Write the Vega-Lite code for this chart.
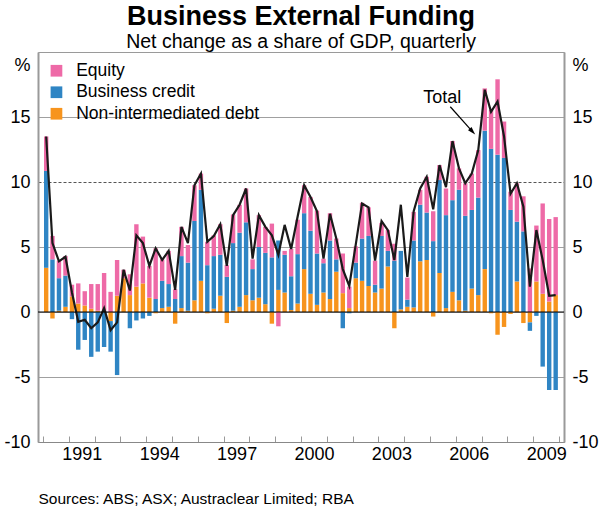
{
  "$schema": "https://vega.github.io/schema/vega-lite/v6.json",
  "width": 526,
  "height": 390,
  "autosize": "none",
  "padding": {"left": 38, "top": 52, "right": 36, "bottom": 64},
  "title": {
    "text": "Business External Funding",
    "subtitle": "Net change as a share of GDP, quarterly",
    "anchor": "middle",
    "font": "Liberation Sans",
    "fontSize": 27,
    "fontWeight": "bold",
    "color": "#000000",
    "subtitleFont": "Liberation Sans",
    "subtitleFontSize": 19.5,
    "subtitleColor": "#000000",
    "subtitlePadding": 2,
    "offset": 0
  },
  "data": {
    "values": [
      {"date": "1990-02-15", "Non-intermediated debt": 3.4, "Business credit": 7.45, "Equity": 2.65, "Total": 13.5},
      {"date": "1990-05-15", "Non-intermediated debt": -0.5, "Business credit": 4.05, "Equity": 1.8, "Total": 5.3},
      {"date": "1990-08-15", "Non-intermediated debt": 0.1, "Business credit": 2.5, "Equity": 1.35, "Total": 3.9},
      {"date": "1990-11-15", "Non-intermediated debt": 0.4, "Business credit": 2.4, "Equity": 1.5, "Total": 4.25},
      {"date": "1991-02-15", "Non-intermediated debt": 1.2, "Business credit": -0.55, "Equity": 0.9, "Total": 1.5},
      {"date": "1991-05-15", "Non-intermediated debt": 0.65, "Business credit": -2.9, "Equity": 1.55, "Total": -0.75},
      {"date": "1991-08-15", "Non-intermediated debt": 0.5, "Business credit": -2.15, "Equity": 1.1, "Total": -0.6},
      {"date": "1991-11-15", "Non-intermediated debt": 0.25, "Business credit": -3.45, "Equity": 1.9, "Total": -1.25},
      {"date": "1992-02-15", "Non-intermediated debt": 0.1, "Business credit": -3.05, "Equity": 2.05, "Total": -0.8},
      {"date": "1992-05-15", "Non-intermediated debt": 0.0, "Business credit": -2.7, "Equity": 3.0, "Total": 0.3},
      {"date": "1992-08-15", "Non-intermediated debt": -0.7, "Business credit": -2.35, "Equity": 1.55, "Total": -1.4},
      {"date": "1992-11-15", "Non-intermediated debt": 1.25, "Business credit": -4.85, "Equity": 2.75, "Total": -0.8},
      {"date": "1993-02-15", "Non-intermediated debt": 2.6, "Business credit": 0.0, "Equity": 0.65, "Total": 3.25},
      {"date": "1993-05-15", "Non-intermediated debt": 1.3, "Business credit": -1.25, "Equity": 1.6, "Total": 1.65},
      {"date": "1993-08-15", "Non-intermediated debt": 1.95, "Business credit": -0.65, "Equity": 4.8, "Total": 5.9},
      {"date": "1993-11-15", "Non-intermediated debt": 2.2, "Business credit": -0.5, "Equity": 3.6, "Total": 5.3},
      {"date": "1994-02-15", "Non-intermediated debt": 1.1, "Business credit": -0.3, "Equity": 2.45, "Total": 3.55},
      {"date": "1994-05-15", "Non-intermediated debt": -0.1, "Business credit": 1.0, "Equity": 3.9, "Total": 4.9},
      {"date": "1994-08-15", "Non-intermediated debt": 0.3, "Business credit": 2.1, "Equity": 1.65, "Total": 4.0},
      {"date": "1994-11-15", "Non-intermediated debt": 0.4, "Business credit": 1.75, "Equity": 2.55, "Total": 4.7},
      {"date": "1995-02-15", "Non-intermediated debt": -0.9, "Business credit": 1.0, "Equity": 0.75, "Total": 1.7},
      {"date": "1995-05-15", "Non-intermediated debt": 0.3, "Business credit": 4.0, "Equity": 2.25, "Total": 6.55},
      {"date": "1995-08-15", "Non-intermediated debt": 0.1, "Business credit": 3.7, "Equity": 1.35, "Total": 5.3},
      {"date": "1995-11-15", "Non-intermediated debt": 0.9, "Business credit": 6.1, "Equity": 2.75, "Total": 9.75},
      {"date": "1996-02-15", "Non-intermediated debt": 2.4, "Business credit": 7.0, "Equity": 1.25, "Total": 10.65},
      {"date": "1996-05-15", "Non-intermediated debt": -0.1, "Business credit": 3.6, "Equity": 1.8, "Total": 5.4},
      {"date": "1996-08-15", "Non-intermediated debt": 0.25, "Business credit": 4.05, "Equity": 1.6, "Total": 5.85},
      {"date": "1996-11-15", "Non-intermediated debt": 1.25, "Business credit": 3.15, "Equity": 2.35, "Total": 6.75},
      {"date": "1997-02-15", "Non-intermediated debt": -0.85, "Business credit": 2.7, "Equity": 0.9, "Total": 3.55},
      {"date": "1997-05-15", "Non-intermediated debt": 0.1, "Business credit": 5.2, "Equity": 2.2, "Total": 7.45},
      {"date": "1997-08-15", "Non-intermediated debt": 0.4, "Business credit": 5.7, "Equity": 2.15, "Total": 8.25},
      {"date": "1997-11-15", "Non-intermediated debt": 1.3, "Business credit": 5.6, "Equity": 2.6, "Total": 9.5},
      {"date": "1998-02-15", "Non-intermediated debt": 0.9, "Business credit": 2.4, "Equity": 0.75, "Total": 4.1},
      {"date": "1998-05-15", "Non-intermediated debt": 1.1, "Business credit": 3.9, "Equity": 2.45, "Total": 7.45},
      {"date": "1998-08-15", "Non-intermediated debt": 0.6, "Business credit": 3.95, "Equity": 2.0, "Total": 6.55},
      {"date": "1998-11-15", "Non-intermediated debt": -0.9, "Business credit": 4.2, "Equity": 2.6, "Total": 5.9},
      {"date": "1999-02-15", "Non-intermediated debt": 1.7, "Business credit": 3.8, "Equity": -1.1, "Total": 4.4},
      {"date": "1999-05-15", "Non-intermediated debt": 1.5, "Business credit": 2.9, "Equity": 0.3, "Total": 6.7},
      {"date": "1999-08-15", "Non-intermediated debt": 0.15, "Business credit": 2.6, "Equity": 2.1, "Total": 4.85},
      {"date": "1999-11-15", "Non-intermediated debt": 0.65, "Business credit": 3.8, "Equity": 2.65, "Total": 7.35},
      {"date": "2000-02-15", "Non-intermediated debt": 3.3, "Business credit": 4.3, "Equity": 2.15, "Total": 9.75},
      {"date": "2000-05-15", "Non-intermediated debt": 1.4, "Business credit": 4.85, "Equity": 2.6, "Total": 8.85},
      {"date": "2000-08-15", "Non-intermediated debt": 0.55, "Business credit": 3.95, "Equity": 3.3, "Total": 7.75},
      {"date": "2000-11-15", "Non-intermediated debt": 1.5, "Business credit": 2.25, "Equity": 0.35, "Total": 4.1},
      {"date": "2001-02-15", "Non-intermediated debt": 1.0, "Business credit": 4.5, "Equity": 2.1, "Total": 7.55},
      {"date": "2001-05-15", "Non-intermediated debt": 3.1, "Business credit": 0.95, "Equity": 1.6, "Total": 5.65},
      {"date": "2001-08-15", "Non-intermediated debt": 1.45, "Business credit": -1.25, "Equity": 3.05, "Total": 3.3},
      {"date": "2001-11-15", "Non-intermediated debt": 0.3, "Business credit": -0.1, "Equity": 1.65, "Total": 2.0},
      {"date": "2002-02-15", "Non-intermediated debt": 2.6, "Business credit": 1.2, "Equity": 1.25, "Total": 5.2},
      {"date": "2002-05-15", "Non-intermediated debt": 2.4, "Business credit": 3.25, "Equity": 2.75, "Total": 8.35},
      {"date": "2002-08-15", "Non-intermediated debt": 2.0, "Business credit": 3.85, "Equity": 2.2, "Total": 8.05},
      {"date": "2002-11-15", "Non-intermediated debt": 1.5, "Business credit": 0.6, "Equity": 1.85, "Total": 3.95},
      {"date": "2003-02-15", "Non-intermediated debt": 1.8, "Business credit": 4.05, "Equity": 1.0, "Total": 7.0},
      {"date": "2003-05-15", "Non-intermediated debt": 3.5, "Business credit": 1.2, "Equity": 1.6, "Total": 6.3},
      {"date": "2003-08-15", "Non-intermediated debt": -1.25, "Business credit": 3.95, "Equity": 1.3, "Total": 4.0},
      {"date": "2003-11-15", "Non-intermediated debt": 0.2, "Business credit": 4.5, "Equity": 0.0, "Total": 8.25},
      {"date": "2004-02-15", "Non-intermediated debt": 0.4, "Business credit": 0.55, "Equity": 1.7, "Total": 2.7},
      {"date": "2004-05-15", "Non-intermediated debt": 0.35, "Business credit": 5.15, "Equity": 2.2, "Total": 7.75},
      {"date": "2004-08-15", "Non-intermediated debt": 3.9, "Business credit": 4.35, "Equity": 1.15, "Total": 9.5},
      {"date": "2004-11-15", "Non-intermediated debt": 4.0, "Business credit": 3.65, "Equity": 2.75, "Total": 10.4},
      {"date": "2005-02-15", "Non-intermediated debt": -0.35, "Business credit": 5.45, "Equity": 2.3, "Total": 7.9},
      {"date": "2005-05-15", "Non-intermediated debt": 3.0, "Business credit": 7.15, "Equity": 1.15, "Total": 11.3},
      {"date": "2005-08-15", "Non-intermediated debt": 0.3, "Business credit": 7.15, "Equity": 2.05, "Total": 9.6},
      {"date": "2005-11-15", "Non-intermediated debt": 1.55, "Business credit": 7.05, "Equity": 4.55, "Total": 13.15},
      {"date": "2006-02-15", "Non-intermediated debt": 0.9, "Business credit": 8.5, "Equity": 1.65, "Total": 11.05},
      {"date": "2006-05-15", "Non-intermediated debt": 0.1, "Business credit": 7.3, "Equity": 2.5, "Total": 9.9},
      {"date": "2006-08-15", "Non-intermediated debt": 1.8, "Business credit": 6.05, "Equity": 2.8, "Total": 10.65},
      {"date": "2006-11-15", "Non-intermediated debt": 1.3, "Business credit": 7.5, "Equity": 3.65, "Total": 12.45},
      {"date": "2007-02-15", "Non-intermediated debt": 3.3, "Business credit": 10.65, "Equity": 3.25, "Total": 17.1},
      {"date": "2007-05-15", "Non-intermediated debt": -0.1, "Business credit": 12.55, "Equity": 3.0, "Total": 15.4},
      {"date": "2007-08-15", "Non-intermediated debt": -1.75, "Business credit": 12.1, "Equity": 5.8, "Total": 16.2},
      {"date": "2007-11-15", "Non-intermediated debt": -1.15, "Business credit": 11.85, "Equity": 2.8, "Total": 13.5},
      {"date": "2008-02-15", "Non-intermediated debt": -0.15, "Business credit": 7.85, "Equity": 1.4, "Total": 9.1},
      {"date": "2008-05-15", "Non-intermediated debt": 2.35, "Business credit": 4.6, "Equity": 2.95, "Total": 9.9},
      {"date": "2008-08-15", "Non-intermediated debt": -0.85, "Business credit": 6.2, "Equity": 2.7, "Total": 8.1},
      {"date": "2008-11-15", "Non-intermediated debt": -0.8, "Business credit": -0.65, "Equity": 3.35, "Total": 1.95},
      {"date": "2009-02-15", "Non-intermediated debt": 2.35, "Business credit": -0.3, "Equity": 4.3, "Total": 6.3},
      {"date": "2009-05-15", "Non-intermediated debt": 1.4, "Business credit": -4.2, "Equity": 6.95, "Total": 4.0},
      {"date": "2009-08-15", "Non-intermediated debt": 0.8, "Business credit": -6.0, "Equity": 6.35, "Total": 1.25},
      {"date": "2009-11-15", "Non-intermediated debt": 1.3, "Business credit": -6.0, "Equity": 6.0, "Total": 1.3}
    ]
  },
  "layer": [
    {
      "transform": [
        {"fold": ["Non-intermediated debt", "Business credit", "Equity"], "as": ["series", "value"]},
        {"calculate": "indexof(['Non-intermediated debt', 'Business credit', 'Equity'], datum.series)", "as": "stackOrder"}
      ],
      "mark": {"type": "bar", "width": 4.4},
      "encoding": {
        "x": {
          "field": "date",
          "type": "temporal",
          "scale": {"domain": [{"year": 1990, "month": 1, "date": 1}, {"year": 2010, "month": 1, "date": 1}]},
          "axis": {
            "title": "Sources: ABS; ASX; Austraclear Limited; RBA",
            "tickCount": {"interval": "year", "step": 1},
            "labelExpr": "year(datum.value) % 3 == 2 && year(datum.value) < 2010 ? timeFormat(datum.value, '%Y') : ''",
            "labelOffset": 13,
            "labelFlush": false,
            "labelOverlap": false,
            "labelFontSize": 18,
            "labelPadding": 9,
            "tickSize": -6,
            "tickColor": "#9a9a9a",
            "domainColor": "#888888",
            "domainWidth": 1.2,
            "grid": false,
            "titleX": 0,
            "titleY": 61,
            "titleAnchor": "start",
            "titleAlign": "left",
            "titleBaseline": "alphabetic",
            "titleFontSize": 15.5,
            "titleFontWeight": "normal"
          }
        },
        "y": {
          "field": "value",
          "type": "quantitative",
          "stack": "zero",
          "scale": {"domain": [-10, 20], "nice": false, "zero": false},
          "axis": {
            "orient": "left",
            "title": null,
            "values": [-10, -5, 0, 5, 10, 15, 19],
            "labelExpr": "datum.value == 19 ? '%' : '' + datum.value",
            "labelFontSize": 18,
            "labelPadding": 8,
            "ticks": false,
            "tickSize": 0,
            "domainColor": "#9a9a9a",
            "domainWidth": 2,
            "grid": true,
            "gridColor": {
              "condition": [
                {"test": "datum.value == 19", "value": "transparent"},
                {"test": "datum.value == 10", "value": "#555555"}
              ],
              "value": "#a0a0a0"
            },
            "gridDash": {"condition": {"test": "datum.value == 10", "value": [3, 2]}, "value": []},
            "gridWidth": 1
          }
        },
        "color": {
          "field": "series",
          "type": "nominal",
          "sort": ["Equity", "Business credit", "Non-intermediated debt"],
          "scale": {"range": ["#ee6aa7", "#2f85c4", "#f7941d"]},
          "legend": {
            "orient": "none",
            "legendX": 9.7,
            "legendY": 10,
            "title": null,
            "symbolType": "square",
            "symbolSize": 137,
            "symbolStrokeWidth": 0,
            "symbolOpacity": 1,
            "labelFontSize": 17.5,
            "labelLimit": 0,
            "labelOffset": 11,
            "rowPadding": 2.5,
            "padding": 0
          }
        },
        "order": {"field": "stackOrder", "type": "quantitative", "sort": "ascending"}
      }
    },
    {
      "mark": {"type": "line", "color": "#1a1a1a", "strokeWidth": 2.2},
      "encoding": {
        "x": {"field": "date", "type": "temporal"},
        "y": {
          "field": "Total",
          "type": "quantitative",
          "axis": {
            "orient": "right",
            "title": null,
            "values": [-10, -5, 0, 5, 10, 15, 19],
            "labelExpr": "datum.value == 19 ? '%' : '' + datum.value",
            "labelFontSize": 18,
            "labelPadding": 8,
            "ticks": false,
            "tickSize": 0,
            "domainColor": "#9a9a9a",
            "domainWidth": 2,
            "grid": false
          }
        }
      }
    },
    {
      "data": {"values": [{"v": 0}]},
      "mark": {"type": "rule", "color": "#000000", "strokeWidth": 1.2},
      "encoding": {"y": {"field": "v", "type": "quantitative", "axis": null}}
    },
    {
      "data": {"values": [{"d": "2005-06-23", "v": 16.05, "t": "Total"}]},
      "mark": {"type": "text", "fontSize": 18, "align": "center", "baseline": "alphabetic", "color": "#000000"},
      "encoding": {
        "x": {"field": "d", "type": "temporal"},
        "y": {"field": "v", "type": "quantitative", "axis": null},
        "text": {"field": "t"}
      }
    },
    {
      "data": {"values": [{"d1": "2005-10-15", "v1": 15.79, "d2": "2006-08-25", "v2": 13.88}]},
      "layer": [
        {
          "mark": {"type": "rule", "color": "#000000", "strokeWidth": 1.2},
          "encoding": {
            "x": {"field": "d1", "type": "temporal"},
            "y": {"field": "v1", "type": "quantitative", "axis": null},
            "x2": {"field": "d2"},
            "y2": {"field": "v2"}
          }
        },
        {
          "mark": {"type": "point", "shape": "M0,-1L0.6,1L-0.6,1Z", "filled": true, "color": "#000000", "opacity": 1, "size": 64, "angle": 137.5},
          "encoding": {
            "x": {"field": "d2", "type": "temporal"},
            "y": {"field": "v2", "type": "quantitative", "axis": null}
          }
        }
      ]
    }
  ],
  "resolve": {"axis": {"y": "independent"}},
  "config": {
    "font": "Liberation Sans",
    "view": {"stroke": "#9a9a9a", "strokeWidth": 1},
    "axis": {"labelFont": "Liberation Sans", "labelColor": "#000000", "titleColor": "#000000", "titleFont": "Liberation Sans"},
    "legend": {"labelFont": "Liberation Sans", "labelColor": "#000000"}
  }
}
